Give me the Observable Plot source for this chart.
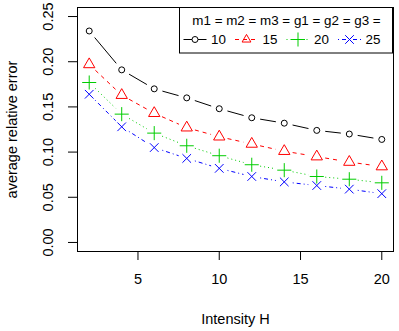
<!DOCTYPE html>
<html><head><meta charset="utf-8">
<script src="https://cdn.jsdelivr.net/npm/d3@7"></script>
<script src="https://cdn.jsdelivr.net/npm/@observablehq/plot@0.6"></script>
<style>
body{margin:0;background:#fff}
#chart{width:399px;height:331px}
</style>
</head><body><div id="chart"></div>
<script>
const intensity = [2, 4, 6, 8, 10, 12, 14, 16, 18, 20];
const err10 = [0.234, 0.191, 0.170, 0.160, 0.148, 0.138, 0.132, 0.124, 0.120, 0.114];
const err15 = [0.197, 0.163, 0.143, 0.127, 0.117, 0.109, 0.101, 0.095, 0.089, 0.084];
const err20 = [0.177, 0.142, 0.121, 0.107, 0.096, 0.086, 0.080, 0.073, 0.070, 0.066];
const err25 = [0.164, 0.128, 0.105, 0.093, 0.082, 0.073, 0.067, 0.063, 0.059, 0.054];
const seriesNames = ["10", "15", "20", "25"];
const seriesValues = [err10, err15, err20, err25];
const seriesColors = ["#000000", "#FF0000", "#00CD00", "#0000FF"];
const seriesSymbols = ["circle", "triangle", "plus", "times"];
const seriesDash = [null, "4,4", "1,3", "1,3,4,3"];
const seriesR = [3, 4.2, 4.6, 4];
const xTicks = [5, 10, 15, 20];
const yTicks = [0, 0.05, 0.10, 0.15, 0.20, 0.25];
const legendTitle = "m1 = m2 = m3 = g1 = g2 = g3 =";
const xLabel = "Intensity H";
const yLabel = "average relative error";

const FONT = "'Liberation Sans', Arial, sans-serif";
const marks = [];
seriesNames.forEach((name, i) => {
  const pts = intensity.map((x, j) => ({series: name, x, y: seriesValues[i][j]}));
  const segs = pts.slice(0, -1).map((p, j) => ({x1: p.x, y1: p.y, x2: pts[j + 1].x, y2: pts[j + 1].y}));
  marks.push(Plot.arrow(segs, {
    x1: "x1", y1: "y1", x2: "x2", y2: "y2",
    stroke: seriesColors[i], strokeWidth: 1, strokeDasharray: seriesDash[i],
    headLength: 0, insetStart: 8.5, insetEnd: 8.5, strokeLinecap: "butt"
  }));
  marks.push(Plot.dot(pts, {
    x: "x", y: "y", symbol: seriesSymbols[i], r: seriesR[i],
    stroke: seriesColors[i], fill: "none", strokeWidth: 1
  }));
});

const chart = Plot.plot({
  width: 399, height: 331,
  marginLeft: 77, marginRight: 6, marginTop: 7, marginBottom: 80,
  style: {fontFamily: FONT, fontSize: "14.5px", color: "#000", background: "#fff"},
  x: {domain: [1.28, 20.72]},
  y: {domain: [-0.01, 0.26]},
  marks: [
    Plot.frame({stroke: "#000", strokeWidth: 1}),
    Plot.axisX({ticks: xTicks, tickSize: 9, tickPadding: 13, label: null, tickFormat: d => String(d)}),
    Plot.axisY({ticks: yTicks, tickSize: 9, tickPadding: 20, tickRotate: -90, textAnchor: "middle", lineAnchor: "middle", label: null, tickFormat: d3.format(".2f")}),
    Plot.text([xLabel], {frameAnchor: "bottom", dy: 68, text: d => d, textAnchor: "middle", lineAnchor: "middle"}),
    Plot.text([yLabel], {frameAnchor: "left", dx: -65, rotate: -90, text: d => d, textAnchor: "middle", lineAnchor: "middle"}),
    ...marks
  ]
});
document.getElementById("chart").appendChild(chart);

// Legend drawn inside the plot's top-right corner
const svg = d3.select(chart);
const lg = svg.append("g").attr("font-family", FONT).attr("font-size", "13.4px");
const bx = 179.5, by = 7.5, bw = 213, bh = 45.5;
lg.append("rect").attr("x", bx).attr("y", by).attr("width", bw).attr("height", bh)
  .attr("fill", "#fff").attr("stroke", "#000").attr("stroke-width", 1);
lg.append("text").attr("x", bx + bw / 2 + 0.5).attr("y", by + 13).attr("dy", "0.35em")
  .attr("text-anchor", "middle").attr("fill", "#000").text(legendTitle);
const symMap = {circle: d3.symbolCircle, triangle: d3.symbolTriangle2, plus: d3.symbolPlus, times: d3.symbolTimes};
seriesNames.forEach((name, i) => {
  const x0 = 183.5 + i * 51.5, cy = 39.5;
  lg.append("line").attr("x1", x0).attr("x2", x0 + 23).attr("y1", cy).attr("y2", cy)
    .attr("stroke", seriesColors[i]).attr("stroke-width", 1)
    .attr("stroke-dasharray", seriesDash[i]);
  const r = seriesR[i];
  lg.append("path").attr("transform", `translate(${x0 + 11.5},${cy})`)
    .attr("d", d3.symbol(symMap[seriesSymbols[i]], Math.PI * r * r)())
    .attr("fill", i === 0 ? "#fff" : "none").attr("stroke", seriesColors[i]).attr("stroke-width", 1);
  lg.append("text").attr("x", x0 + 35).attr("y", cy).attr("dy", "0.35em")
    .attr("fill", "#000").text(name);
});
</script>
</body></html>
